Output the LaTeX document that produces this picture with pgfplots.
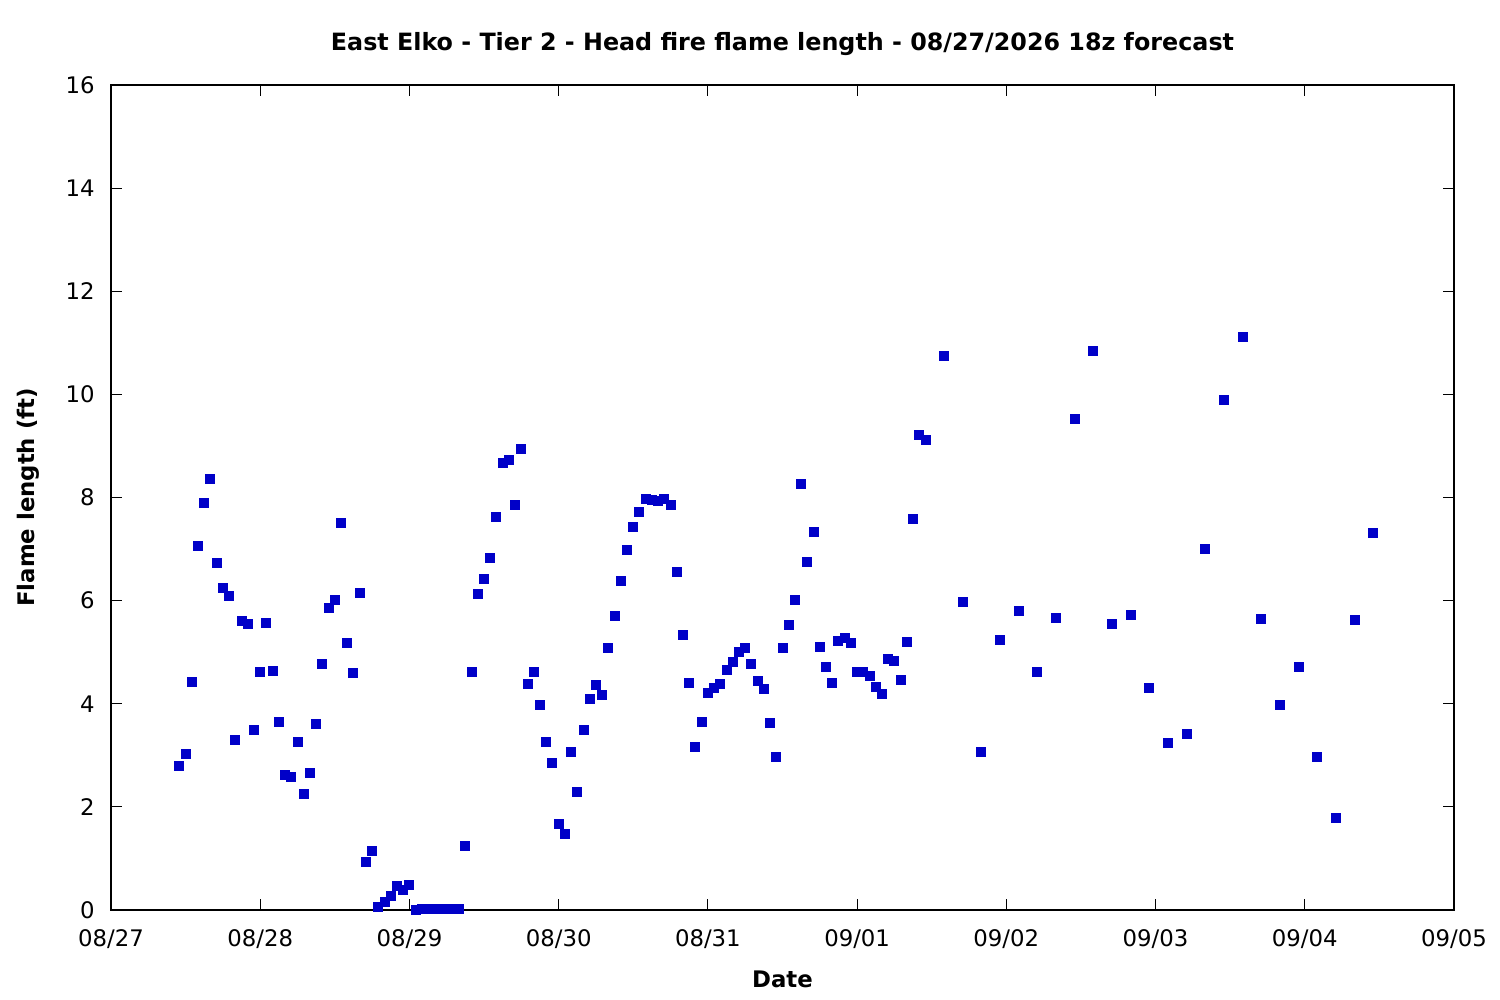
\documentclass[border=0pt]{standalone}
\usepackage{fontspec}
\setmainfont{DejaVu Sans}
\usepackage{pgfplots}
\usepackage{pgfplotstable}
\pgfplotsset{compat=1.18}
\definecolor{ptblue}{HTML}{0000C8}
\pgfplotstableread{
h v
11 2.79
12 3.02
13 4.43
14 7.05
15 7.89
16 8.35
17 6.72
18 6.24
19 6.08
20 3.29
21 5.60
22 5.54
23 3.50
24 4.61
25 5.56
26 4.63
27 3.64
28 2.61
29 2.58
30 3.25
31 2.24
32 2.65
33 3.60
34 4.78
35 5.85
36 6.01
37 7.50
38 5.17
39 4.59
40 6.14
41 0.94
42 1.14
43 0.05
44 0.15
45 0.27
46 0.46
47 0.38
48 0.48
49 0.00
50 0.02
51 0.02
52 0.02
53 0.02
54 0.02
55 0.02
56 0.02
57 1.25
58 4.61
59 6.12
60 6.41
61 6.82
62 7.62
63 8.66
64 8.72
65 7.85
66 8.95
67 4.38
68 4.61
69 3.97
70 3.25
71 2.86
72 1.66
73 1.47
74 3.06
75 2.28
76 3.50
77 4.09
78 4.36
79 4.16
80 5.08
81 5.70
82 6.38
83 6.98
84 7.42
85 7.71
86 7.98
87 7.96
88 7.93
89 7.98
90 7.85
91 6.55
92 5.33
93 4.40
94 3.17
95 3.64
96 4.20
97 4.30
98 4.38
99 4.65
100 4.80
101 5.00
102 5.09
103 4.78
104 4.45
105 4.28
106 3.62
107 2.96
108 5.09
109 5.52
110 6.01
111 8.26
112 6.74
113 7.34
114 5.11
115 4.71
116 4.40
117 5.21
118 5.27
119 5.17
120 4.61
121 4.61
122 4.53
123 4.32
124 4.18
125 4.86
126 4.82
127 4.47
128 5.19
129 7.58
130 9.21
131 9.11
134 10.74
137 5.97
140 3.06
143 5.23
146 5.79
149 4.61
152 5.66
155 9.52
158 10.85
161 5.54
164 5.72
167 4.30
170 3.23
173 3.41
176 7.01
179 9.90
182 11.11
185 5.64
188 3.97
191 4.71
194 2.96
197 1.78
200 5.62
203 7.31
}\flametable
\begin{document}
\begin{tikzpicture}
\path[use as bounding box] (0,0) rectangle (750pt,500pt);
\begin{axis}[
  at={(55.5pt,45pt)}, anchor=south west,
  scale only axis,
  width=671.5pt, height=412.5pt,
  xmin=0, xmax=216, ymin=0, ymax=16,
  xtick={0,24,...,216},
  xticklabels={08/27,08/28,08/29,08/30,08/31,09/01,09/02,09/03,09/04,09/05},
  ytick={0,2,...,16},
  minor tick num=0,
  tick align=inside,
  major tick length=5.5pt,
  axis line style={line width=0.6pt},
  every tick/.style={black, line width=0.6pt},
  /pgf/number format/assume math mode=true,
  tick label style={font=\fontsize{11.4pt}{13pt}\selectfont},
  xticklabel style={anchor=base, inner sep=0pt, yshift=-18.5pt},
  yticklabel style={anchor=east, inner sep=0pt, xshift=-8pt},
  every axis title shift=0pt,
  title={East Elko - Tier 2 - Head fire flame length - 08/27/2026 18z forecast},
  title style={font=\bfseries\fontsize{11.9pt}{13pt}\selectfont, at={(axis description cs:0.5,1.0412)}, anchor=base, inner sep=0pt},
  xlabel={Date},
  xlabel style={font=\bfseries\fontsize{11.4pt}{13pt}\selectfont, at={(axis description cs:0.5,-0.0945)}, anchor=base, inner sep=0pt},
  ylabel={Flame length (ft)},
  ylabel style={font=\bfseries\fontsize{11.4pt}{13pt}\selectfont, at={(axis description cs:-0.0566,0.5)}, anchor=base, inner sep=0pt},
  clip=false,
]
\addplot[ptblue, only marks, mark=square*, mark size=2.25pt, mark options={fill=ptblue, draw=ptblue, line width=0pt}] table[x=h, y=v] {\flametable};
\end{axis}
\end{tikzpicture}
\end{document}
